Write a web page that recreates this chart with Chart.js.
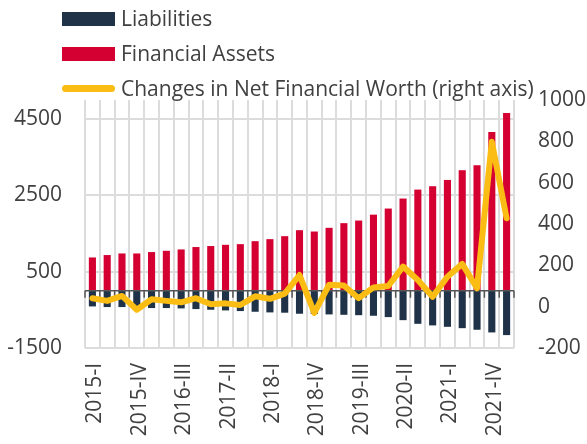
<!DOCTYPE html>
<html>
<head>
<meta charset="utf-8">
<script src="https://cdn.jsdelivr.net/npm/chart.js@4.4.1/dist/chart.umd.min.js"></script>
<style>
  html, body { margin: 0; padding: 0; background: #ffffff; }
  #wrap { position: relative; width: 587px; height: 444px; }
  #legend { position: absolute; left: 62px; top: 1px; font-family: "Open Sans", sans-serif; font-size: 21px; color: #404040; }
  .row { display: flex; align-items: center; height: 35px; line-height: 35px; white-space: nowrap; }
  .sw { width: 53px; margin-right: 6px; flex: none; }
  .box { height: 14px; }
  .ln { height: 7px; border-radius: 3.5px; }
</style>
</head>
<body>
<div id="wrap">
  <canvas id="c" width="587" height="444"></canvas>
  <div id="legend"></div>
</div>
<script>
const quarters = ["2015-I","2015-II","2015-III","2015-IV","2016-I","2016-II","2016-III","2016-IV",
  "2017-I","2017-II","2017-III","2017-IV","2018-I","2018-II","2018-III","2018-IV",
  "2019-I","2019-II","2019-III","2019-IV","2020-I","2020-II","2020-III","2020-IV",
  "2021-I","2021-II","2021-III","2021-IV","2022-I"];
const liabilities = [-410,-427,-427,-440,-453,-453,-462,-480,-497,-515,-532,-550,-567,-575,-602,-610,
  -620,-630,-640,-655,-690,-770,-866,-908,-945,-980,-1022,-1092,-1162];
const financialAssets = [873,936,978,978,1014,1048,1083,1146,1172,1205,1222,1300,1353,1431,1588,1553,
  1650,1772,1841,1995,2155,2417,2652,2740,2905,3160,3290,4160,4660];
const netWorthChange = [41,28,52,-15,36,28,21,41,12,16,8,50,38,63,153,-30,106,102,41,93,100,194,129,48,145,207,89,798,428];
const leftTicks = [-1500,500,2500,4500];
const rightTicks = [-200,0,200,400,600,800,1000];
const seriesNames = ["Liabilities","Financial Assets","Changes in Net Financial Worth (right axis)"];

const NAVY = "#1f3247", RED = "#d50032", YELLOW = "#fbbd13", TEXT = "#404040", GRID = "#dcdcdc";
const FONT = "'Open Sans', sans-serif";

const zeroLine = {
  id: "zeroLine",
  beforeDatasetDraw(chart, args) {
    if (args.index !== 2) return;
    const ctx = chart.ctx, x = chart.scales.x, y = chart.scales.y;
    const y0 = y.getPixelForValue(0);
    const area = chart.chartArea;
    ctx.save();
    ctx.strokeStyle = "#555555";
    ctx.lineWidth = 1.5;
    ctx.beginPath();
    ctx.moveTo(area.left, y0); ctx.lineTo(area.right, y0);
    const step = x.getPixelForValue(1) - x.getPixelForValue(0);
    for (let i = 0; i <= quarters.length; i++) {
      const px = x.getPixelForValue(i) - step / 2;
      ctx.moveTo(px, y0); ctx.lineTo(px, y0 + 7);
    }
    ctx.stroke();
    ctx.restore();
  }
};

const chart = new Chart(document.getElementById("c"), {
  type: "bar",
  data: {
    labels: quarters,
    datasets: [
      { label: seriesNames[0], data: liabilities, backgroundColor: NAVY, yAxisID: "y", order: 2,
        barPercentage: 0.48, categoryPercentage: 1 },
      { label: seriesNames[1], data: financialAssets, backgroundColor: RED, yAxisID: "y", order: 2,
        barPercentage: 0.48, categoryPercentage: 1 },
      { label: seriesNames[2], type: "line", data: netWorthChange, borderColor: YELLOW, backgroundColor: YELLOW,
        borderWidth: 6, pointRadius: 0, tension: 0, yAxisID: "y2", order: 1,
        borderJoinStyle: "round", borderCapStyle: "round" }
    ]
  },
  options: {
    responsive: false,
    animation: false,
    devicePixelRatio: 1,
    layout: { padding: { top: 100, left: 0, right: 0, bottom: 0 } },
    plugins: { legend: { display: false }, tooltip: { enabled: false } },
    scales: {
      x: {
        stacked: true,
        grid: { color: GRID, lineWidth: 2, offset: true, drawTicks: false },
        border: { display: false },
        ticks: {
          autoSkip: false, maxRotation: 90, minRotation: 90, padding: 15, labelOffset: 3,
          color: TEXT, font: { family: FONT, size: 21 },
          callback: (v, i) => (i % 3 === 0 ? quarters[i] : "")
        },
        afterFit: s => { s.height = 96; }
      },
      y: {
        stacked: true, position: "left", min: -1500, max: 5000,
        afterBuildTicks: s => { s.ticks = leftTicks.map(v => ({ value: v })); },
        grid: { color: GRID, lineWidth: 2, drawTicks: false },
        border: { display: false },
        ticks: { padding: 23, color: TEXT, font: { family: FONT, size: 21 }, callback: v => String(v) },
        afterFit: s => { s.width = 85; }
      },
      y2: {
        position: "right", min: -200, max: 1000,
        afterBuildTicks: s => { s.ticks = rightTicks.map(v => ({ value: v })); },
        grid: { drawOnChartArea: false, drawTicks: false },
        border: { display: false },
        ticks: { padding: 24, color: TEXT, font: { family: FONT, size: 21 }, callback: v => String(v) },
        afterFit: s => { s.width = 73; }
      }
    }
  },
  plugins: [zeroLine]
});

const leg = document.getElementById("legend");
chart.data.datasets.forEach(ds => {
  const row = document.createElement("div");
  row.className = "row";
  const sw = document.createElement("div");
  sw.className = "sw " + (ds.type === "line" ? "ln" : "box");
  sw.style.background = ds.type === "line" ? ds.borderColor : ds.backgroundColor;
  const t = document.createElement("span");
  t.textContent = ds.label;
  row.appendChild(sw); row.appendChild(t);
  leg.appendChild(row);
});
</script>
</body>
</html>
